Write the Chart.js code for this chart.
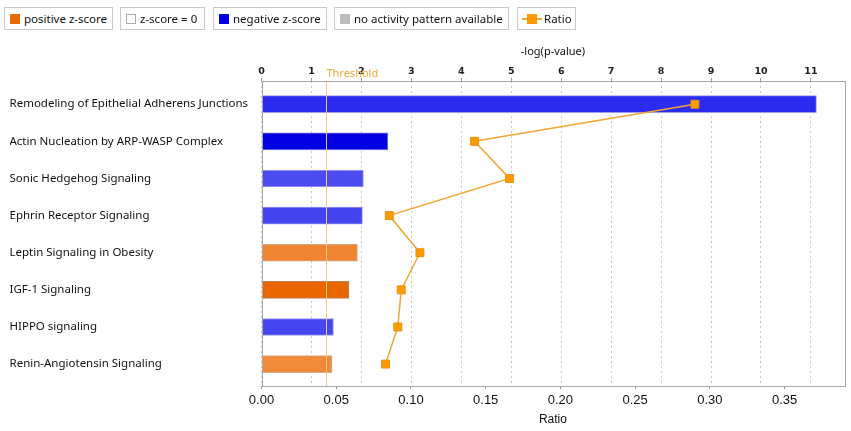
<!DOCTYPE html>
<html>
<head>
<meta charset="utf-8">
<script src="https://cdn.jsdelivr.net/npm/chart.js@4"></script>
<style>
    body { margin: 0; background: #fff; }
    #wrap { position: relative; width: 851px; height: 431px; }
    .lg {
        position: absolute; top: 7px; height: 23px; box-sizing: border-box;
        border: 1px solid #c8c8c8; background: #fff;
        font: 11.5px "Noto Sans", sans-serif; color: #111;
        line-height: 22px; white-space: nowrap;
    }
    .lg i { position: absolute; top: 6px; left: 5px; width: 10px; height: 10px; box-sizing: border-box; }
    .lg span { position: absolute; left: 19px; top: 0; }
</style>
</head>
<body>
<div id="wrap">
    <canvas id="chart" width="851" height="431"></canvas>
    <div class="lg" style="left:4px;width:109px"><i style="background:#ea6a08"></i><span>positive z-score</span></div>
    <div class="lg" style="left:120px;width:85px"><i style="background:#fff;border:1px solid #aaa"></i><span>z-score = 0</span></div>
    <div class="lg" style="left:213px;width:114px"><i style="background:#0000e6"></i><span>negative z-score</span></div>
    <div class="lg" style="left:334px;width:175px"><i style="background:#bdbdbd"></i><span>no activity pattern available</span></div>
    <div class="lg" style="left:517px;width:59px">
        <i style="top:10px;left:4px;width:20px;height:2px;background:#f2a530"></i>
        <i style="top:6px;left:9px;width:10px;height:10px;background:#ff9a00"></i>
        <span style="left:26px">Ratio</span>
    </div>
</div>
<script>
// pathways, top to bottom
const categories = [
    "Remodeling of Epithelial Adherens Junctions",
    "Actin Nucleation by ARP-WASP Complex",
    "Sonic Hedgehog Signaling",
    "Ephrin Receptor Signaling",
    "Leptin Signaling in Obesity",
    "IGF-1 Signaling",
    "HIPPO signaling",
    "Renin-Angiotensin Signaling"
];
// -log(p-value), top axis
const logP = [11.11, 2.53, 2.04, 2.02, 1.92, 1.75, 1.44, 1.41];
// ratio, bottom axis
const ratio = [0.290, 0.1425, 0.166, 0.0855, 0.106, 0.0935, 0.0912, 0.083];
const barColors = ['#2b2bf0', '#0000e2', '#4b4bf0', '#4444ee', '#ef8632', '#ea6600', '#4646f0', '#ee8a3a'];
const barBorders = ['#9a9af0', '#7a7ae8', '#9c9cf2', '#9494f0', '#d8a684', '#b88060', '#9898f0', '#d8aa8a'];
const threshold = 1.3;

const frameAndThreshold = {
    id: 'frameAndThreshold',
    afterDatasetsDraw(chart) {
        const { ctx, chartArea: a } = chart;
        const tx = chart.scales.x2.getPixelForValue(threshold);
        ctx.save();
        ctx.strokeStyle = '#f6c47a';
        ctx.lineWidth = 1;
        ctx.beginPath();
        ctx.moveTo(Math.round(tx) + 0.5, a.top);
        ctx.lineTo(Math.round(tx) + 0.5, a.bottom);
        ctx.stroke();
        ctx.restore();
    },
    afterDraw(chart) {
        const { ctx, chartArea: a } = chart;
        const tx = chart.scales.x2.getPixelForValue(threshold);
        ctx.save();
        ctx.strokeStyle = '#a8a8a8';
        ctx.lineWidth = 1;
        ctx.strokeRect(Math.round(a.left) + 0.5, Math.round(a.top) + 0.5, Math.round(a.right - a.left), Math.round(a.bottom - a.top));
        ctx.fillStyle = '#f0a838';
        ctx.font = '11px "Noto Sans", sans-serif';
        ctx.textBaseline = 'middle';
        ctx.fillText('Threshold', tx, 74);
        ctx.restore();
    }
};

new Chart(document.getElementById('chart'), {
    data: {
        datasets: [
            {
                type: 'line',
                label: 'Ratio',
                data: ratio.map((r, i) => ({ x: r, y: i })),
                xAxisID: 'x',
                yAxisID: 'y',
                borderColor: '#f2a530',
                borderWidth: 1.5,
                pointStyle: 'rect',
                pointRadius: 5.6,
                pointBackgroundColor: '#ff9a00',
                pointBorderColor: '#e8900c',
                pointBorderWidth: 1,
                order: 0
            },
            {
                type: 'bar',
                label: '-log(p-value)',
                indexAxis: 'y',
                grouped: false,
                data: logP.map((v, i) => ({ x: v, y: i })),
                xAxisID: 'x2',
                yAxisID: 'y',
                backgroundColor: barColors,
                borderColor: barBorders,
                borderWidth: 1,
                borderSkipped: false,
                barThickness: 17,
                order: 1
            }
        ]
    },
    options: {
        responsive: false,
        animation: false,
        layout: { padding: { top: 40, left: 9.5, right: 4, bottom: 0 } },
        plugins: { legend: { display: false }, tooltip: { enabled: false } },
        scales: {
            y: {
                type: 'linear',
                reverse: true,
                offset: false,
                min: -0.625,
                max: 7.59,
                afterBuildTicks: s => { s.ticks = categories.map((_, i) => ({ value: i })); },
                afterFit: s => { s.width = 252; },
                ticks: {
                    crossAlign: 'far',
                    autoSkip: false,
                    color: '#111',
                    font: { family: 'Noto Sans', size: 11.5 },
                    callback: v => categories[v]
                },
                grid: { display: false },
                border: { display: false }
            },
            x2: {
                type: 'linear',
                position: 'top',
                offset: false,
                min: 0,
                max: 11.67,
                afterFit: s => { s.height = 41; },
                ticks: {
                    stepSize: 1,
                    includeBounds: false,
                    padding: 1,
                    color: '#222',
                    font: { family: 'DejaVu Sans', size: 9.5, weight: 'bold' }
                },
                title: {
                    display: true,
                    text: '-log(p-value)',
                    color: '#111',
                    font: { family: 'Noto Sans', size: 11 },
                    padding: { top: 5, bottom: 0 }
                },
                grid: {
                    color: '#c8c8c8',
                    tickBorderDash: [],
                    tickColor: '#999',
                    tickLength: 3
                },
                border: { display: false, dash: [2, 3] }
            },
            x: {
                type: 'linear',
                position: 'bottom',
                offset: false,
                min: 0,
                max: 0.39,
                afterFit: s => { s.height = 45; },
                ticks: {
                    stepSize: 0.05,
                    includeBounds: false,
                    padding: 4,
                    color: '#111',
                    font: { family: 'Liberation Sans', size: 13 },
                    callback: v => v.toFixed(2)
                },
                title: {
                    display: true,
                    text: 'Ratio',
                    color: '#111',
                    font: { family: 'Liberation Sans', size: 12 },
                    padding: { top: 0, bottom: 4 }
                },
                grid: {
                    drawOnChartArea: false,
                    tickColor: '#999',
                    tickLength: 3
                },
                border: { display: false }
            }
        }
    },
    plugins: [frameAndThreshold]
});
</script>
</body>
</html>
